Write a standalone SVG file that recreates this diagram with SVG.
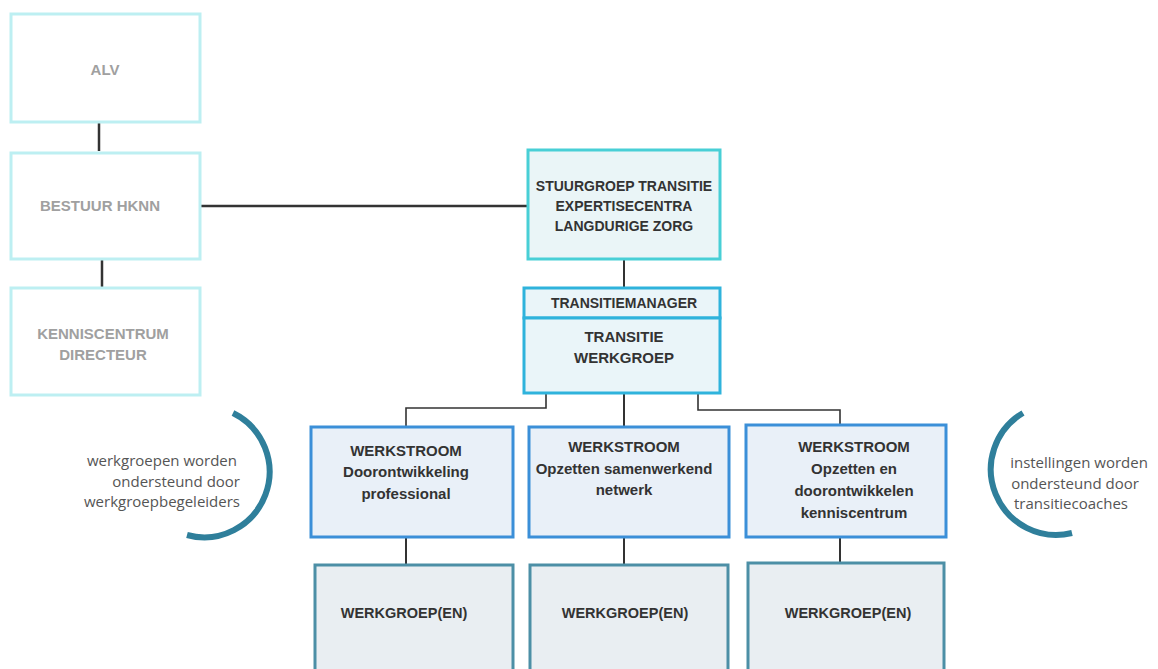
<svg xmlns="http://www.w3.org/2000/svg" width="1158" height="669" viewBox="0 0 1158 669">
<style>
.t{font-family:"Liberation Sans",Arial,sans-serif;font-weight:bold;text-anchor:middle;fill:#333}
.g{fill:#a0a0a0;font-size:15px}
.s{font-size:14px}
.w{font-size:15px}
.side{font-family:"Open Sans","Liberation Sans",sans-serif;font-size:15px;fill:#555}
.lb{fill:#fff;stroke:#bdeff2;stroke-width:3}
.cy{fill:#eaf5f7;stroke:#48cfd6;stroke-width:3}
.bl{fill:#eaf5f9;stroke:#2fb3dc;stroke-width:3}
.ws{fill:#e9f0f8;stroke:#3b8fd8;stroke-width:3}
.wg{fill:#e9eef2;stroke:#4c8fa6;stroke-width:3}
.c{fill:none;stroke:#333;stroke-width:1.6}
.arc{fill:none;stroke:#2f7f9b;stroke-width:6}
</style>
<rect width="1158" height="669" fill="#fff"/>
<g id="connectors">
<line class="c" x1="99" y1="123" x2="99" y2="151" style="stroke-width:2.5"/>
<line class="c" x1="102" y1="260" x2="102" y2="287" style="stroke-width:2.5"/>
<line class="c" x1="200" y1="206" x2="528" y2="206" style="stroke-width:2.5"/>
<line class="c" x1="624" y1="260" x2="624" y2="288" style="stroke-width:2"/>
<polyline class="c" points="546,393 546,408 406,408 406,427"/>
<line class="c" x1="624" y1="393" x2="624" y2="427" style="stroke-width:2"/>
<polyline class="c" points="698,393 698,410 840,410 840,425"/>
<line class="c" x1="406" y1="538" x2="406" y2="565" style="stroke-width:2"/>
<line class="c" x1="624" y1="538" x2="624" y2="565" style="stroke-width:2"/>
<line class="c" x1="840" y1="538" x2="840" y2="563" style="stroke-width:2"/>
</g>
<g id="alv"><rect class="lb" x="11" y="14" width="189" height="108"/><text class="t g" x="105" y="75">ALV</text></g>
<g id="bestuur"><rect class="lb" x="11" y="153" width="189" height="106"/><text class="t g" x="100" y="211">BESTUUR HKNN</text></g>
<g id="kenniscentrum"><rect class="lb" x="11" y="288" width="189" height="107"/><text class="t g" x="103" y="339">KENNISCENTRUM</text><text class="t g" x="103" y="360">DIRECTEUR</text></g>
<g id="stuurgroep"><rect class="cy" x="528" y="150" width="192" height="109"/><text class="t s" x="624" y="191">STUURGROEP TRANSITIE</text><text class="t s" x="624" y="211">EXPERTISECENTRA</text><text class="t s" x="624" y="231">LANGDURIGE ZORG</text></g>
<g id="transitiemanager"><rect class="bl" x="524" y="288" width="196" height="30"/><text class="t s" x="624" y="308">TRANSITIEMANAGER</text></g>
<g id="transitiewerkgroep"><rect class="bl" x="524" y="318" width="196" height="75"/><text class="t w" x="624" y="342">TRANSITIE</text><text class="t w" x="624" y="363">WERKGROEP</text></g>
<g id="ws1"><rect class="ws" x="311" y="427" width="202" height="110"/><text class="t w" x="406" y="456">WERKSTROOM</text><text class="t w" x="406" y="477">Doorontwikkeling</text><text class="t w" x="406" y="499">professional</text></g>
<g id="ws2"><rect class="ws" x="529" y="427" width="200" height="110"/><text class="t w" x="624" y="452">WERKSTROOM</text><text class="t w" x="624" y="474">Opzetten samenwerkend</text><text class="t w" x="624" y="495">netwerk</text></g>
<g id="ws3"><rect class="ws" x="746" y="425" width="200" height="112"/><text class="t w" x="854" y="452">WERKSTROOM</text><text class="t w" x="854" y="474">Opzetten en</text><text class="t w" x="854" y="496">doorontwikkelen</text><text class="t w" x="854" y="518">kenniscentrum</text></g>
<g id="wg1"><rect class="wg" x="315" y="565" width="198" height="110"/><text class="t" x="404" y="618" style="font-size:14.5px">WERKGROEP(EN)</text></g>
<g id="wg2"><rect class="wg" x="530" y="565" width="198" height="110"/><text class="t" x="625" y="618" style="font-size:14.5px">WERKGROEP(EN)</text></g>
<g id="wg3"><rect class="wg" x="748" y="563" width="196" height="112"/><text class="t" x="848" y="618" style="font-size:14.5px">WERKGROEP(EN)</text></g>
<g id="left-note">
<path class="arc" d="M233,413 A65.5,65.5 0 0 1 187,535"/>
<text class="side" text-anchor="end" x="237" y="466">werkgroepen worden</text>
<text class="side" text-anchor="end" x="240" y="487">ondersteund door</text>
<text class="side" text-anchor="end" x="240" y="507">werkgroepbegeleiders</text>
</g>
<g id="right-note">
<path class="arc" d="M1023,413 A65.5,65.5 0 0 0 1072,533"/>
<text class="side" text-anchor="middle" x="1079" y="468">instellingen worden</text>
<text class="side" text-anchor="middle" x="1075" y="489">ondersteund door</text>
<text class="side" text-anchor="middle" x="1071" y="509">transitiecoaches</text>
</g>
</svg>
